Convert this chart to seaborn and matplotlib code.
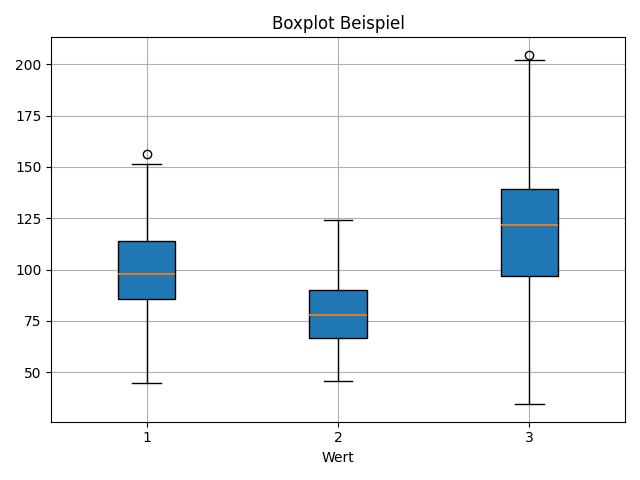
import matplotlib.pyplot as plt
import seaborn as sns
import pandas as pd

# values (whiskers, quartiles, median, outliers)
group_1 = [44.5, 70, 85.6, 92, 97.9, 105, 113.9, 151.3, 156.5]
group_2 = [45.5, 66.8, 78.0, 90.1, 124.1]
group_3 = [34.3, 80, 96.9, 110, 121.8, 130, 139.2, 202.3, 204.7]
labels = ['1', '2', '3']

df = pd.DataFrame({
    'Wert': [labels[0]] * len(group_1) + [labels[1]] * len(group_2) + [labels[2]] * len(group_3),
    'value': group_1 + group_2 + group_3,
})

fig, ax = plt.subplots(figsize=(6.4, 4.8), dpi=100)
sns.boxplot(data=df, x='Wert', y='value', order=labels, ax=ax,
            color='#1f77b4', saturation=1, width=0.3, linewidth=1,
            linecolor='black',
            medianprops=dict(color='#ff7f0e', linewidth=1.2, alpha=1),
            flierprops=dict(marker='o', markerfacecolor='none',
                            markeredgecolor='black', markersize=6))
ax.grid(True)
ax.set_axisbelow(True)
ax.set_title('Boxplot Beispiel')
ax.set_xlabel('Wert')
ax.set_ylabel('')
plt.tight_layout()
plt.savefig('out.png')
